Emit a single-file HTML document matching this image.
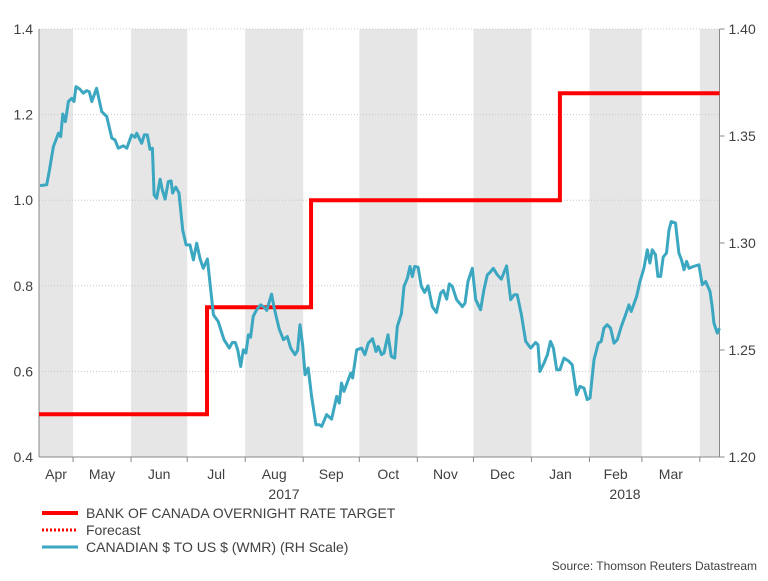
<!DOCTYPE html>
<html><head><meta charset="utf-8"><style>
body{margin:0;background:#fff;width:768px;height:576px;overflow:hidden;font-family:"Liberation Sans",sans-serif}
svg text{font-family:"Liberation Sans",sans-serif;fill:#404040}
</style></head><body>
<svg id="chart" width="768" height="576" xmlns="http://www.w3.org/2000/svg"></svg>
<script>
const monthStarts=[30,61,91,122,153,183,214,244,275,306,334,365];
const monthLabels=["Apr","May","Jun","Jul","Aug","Sep","Oct","Nov","Dec","Jan","Feb","Mar"];
const leftTicks=[0.4,0.6,0.8,1.0,1.2,1.4];
const rightTicks=[1.20,1.25,1.30,1.35,1.40];
const rateDays=[11.8,101.6,157.2,290.2,375.5];
const rateValues=[0.5,0.75,1.0,1.25];
const cadDays=[12.4,15.9,17.4,19.5,22.2,23.4,24.5,25.9,27.5,29.3,30.5,31.6,33.7,35.5,37.3,38.7,40.0,42.6,45.3,48.0,50.7,52.4,54.2,56.9,58.7,61.3,63.1,64.0,66.7,68.1,69.7,71.1,72.4,73.3,74.7,76.5,77.7,79.2,80.9,82.4,83.2,84.9,86.6,88.6,90.4,92.5,94.3,96.1,97.9,99.6,101.8,105.0,107.6,110.7,113.5,115.1,116.7,118.0,119.6,121.0,122.4,123.7,124.9,126.3,128.1,130.3,132.6,133.5,136.1,137.4,140.2,142.4,144.5,146.3,148.6,150.0,151.3,152.7,154.0,155.7,157.5,159.8,161.6,162.9,165.5,168.2,170.9,172.3,173.5,174.8,177.1,178.4,179.4,181.6,184.2,186.0,187.8,190.1,191.9,193.1,194.9,196.2,198.3,200.1,201.9,203.3,205.5,206.9,208.7,210.1,211.3,212.6,214.4,216.1,217.9,219.7,222.0,224.2,226.5,227.9,229.7,231.1,232.7,235.0,238.1,239.5,241.1,243.4,245.2,247.8,249.6,251.4,252.8,254.6,256.8,258.9,261.7,263.9,265.7,267.4,269.6,271.9,274.6,277.2,278.5,279.5,281.7,283.5,285.2,286.7,288.5,290.2,292.4,295.0,296.8,299.1,300.9,303.1,304.8,306.3,308.4,310.7,312.3,313.7,315.5,317.3,319.1,320.9,323.0,325.3,327.1,328.3,331.2,333.0,335.1,336.9,338.3,339.6,341.3,342.6,344.0,345.4,347.2,348.5,349.7,352.0,353.8,355.2,356.5,357.9,359.2,361.5,364.5,366.3,368.1,370.4,371.6,372.5,374.3,375.5];
const cadValues=[1.3268,1.3272,1.3342,1.3451,1.3513,1.3497,1.3603,1.3567,1.3661,1.3676,1.3661,1.3731,1.3718,1.3700,1.3712,1.3707,1.3661,1.3723,1.3614,1.3591,1.3490,1.3482,1.3443,1.3454,1.3443,1.3505,1.3494,1.3513,1.3466,1.3505,1.3505,1.3438,1.3443,1.3225,1.3209,1.3298,1.3248,1.3205,1.3287,1.3290,1.3233,1.3261,1.3233,1.3061,1.2991,1.2991,1.2921,1.2999,1.2925,1.2882,1.2925,1.2665,1.2633,1.2548,1.2509,1.2535,1.2535,1.2501,1.2423,1.2501,1.2486,1.2571,1.2560,1.2657,1.2688,1.2711,1.2696,1.2685,1.2761,1.2700,1.2598,1.2548,1.2563,1.2509,1.2478,1.2498,1.2618,1.2525,1.2384,1.2416,1.2283,1.2151,1.2151,1.2143,1.2198,1.2177,1.2283,1.2252,1.2346,1.2307,1.2361,1.2392,1.2369,1.2501,1.2509,1.2478,1.2532,1.2553,1.2493,1.2517,1.2478,1.2486,1.2571,1.2470,1.2462,1.2610,1.2669,1.2797,1.2836,1.2890,1.2843,1.2890,1.2887,1.2797,1.2769,1.2800,1.2703,1.2675,1.2766,1.2778,1.2738,1.2809,1.2797,1.2735,1.2703,1.2719,1.2820,1.2882,1.2735,1.2688,1.2781,1.2851,1.2862,1.2882,1.2851,1.2831,1.2893,1.2735,1.2758,1.2758,1.2665,1.2540,1.2509,1.2535,1.2525,1.2400,1.2439,1.2478,1.2540,1.2509,1.2408,1.2408,1.2462,1.2447,1.2431,1.2291,1.2330,1.2322,1.2268,1.2275,1.2454,1.2532,1.2540,1.2602,1.2618,1.2602,1.2532,1.2548,1.2610,1.2665,1.2711,1.2680,1.2750,1.2820,1.2882,1.2968,1.2906,1.2968,1.2945,1.2844,1.2844,1.2934,1.2953,1.3061,1.3100,1.3093,1.2953,1.2921,1.2875,1.2914,1.2882,1.2890,1.2898,1.2805,1.2820,1.2774,1.2703,1.2626,1.2579,1.2602];

const NS="http://www.w3.org/2000/svg";
const svg=document.getElementById('chart');
const X0=39,X1=719.5,Y0=29,Y1=457,D0=11.8,D1=375.5;
function xs(d){return X0+(d-D0)/(D1-D0)*(X1-X0);}
function yl(v){return Y1-(v-0.4)/1.0*(Y1-Y0);}
function yr(v){return Y1-(v-1.2)/0.2*(Y1-Y0);}
function mk(tag,attrs,parent){const e=document.createElementNS(NS,tag);for(const k in attrs)e.setAttribute(k,attrs[k]);(parent||svg).appendChild(e);return e;}

// bands
const bounds=[D0].concat(monthStarts).concat([D1]);
for(let i=0;i<bounds.length-1;i++){
  if(i%2===0){
    const r=mk('rect',{x:xs(bounds[i]),y:Y0,width:xs(Math.min(bounds[i+1],D1))-xs(bounds[i]),height:Y1-Y0,fill:'#e6e6e6'});
    
    
  }
}
// gridlines
leftTicks.forEach(v=>{
  const g=mk('line',{x1:X0,x2:X1,y1:yl(v),y2:yl(v),stroke:'#c8c8c8','stroke-dasharray':'1,2','stroke-width':1});
  
  
  const t=mk('text',{x:X0-6,y:yl(v)+5,'text-anchor':'end','font-size':14});
  t.textContent=v.toFixed(1);
  
  
});
rightTicks.forEach(v=>{
  const tk=mk('line',{x1:X1,x2:X1+5,y1:yr(v),y2:yr(v),stroke:'#888'});
  
  
  const t=mk('text',{x:X1+9,y:yr(v)+5,'font-size':14});
  t.textContent=v.toFixed(2);
  
  
});
// axes
const la=mk('line',{x1:X0,x2:X0,y1:Y0,y2:Y1,stroke:'#888'});


const ra=mk('line',{x1:X1,x2:X1,y1:Y0,y2:Y1,stroke:'#888'});


const ba=mk('line',{x1:X0,x2:X1,y1:Y1,y2:Y1,stroke:'#888'});


monthStarts.forEach(d=>{
  const tk=mk('line',{x1:xs(d),x2:xs(d),y1:Y1,y2:Y1+5,stroke:'#888'});
  
  
});
monthLabels.forEach((m,i)=>{
  const t=mk('text',{x:(xs(bounds[i])+xs(bounds[i+1]))/2,y:479,'text-anchor':'middle','font-size':14});
  t.textContent=m;
  
  
});
[['2017',284],['2018',625]].forEach(a=>{
  const t=mk('text',{x:a[1],y:499,'text-anchor':'middle','font-size':14});
  t.textContent=a[0];
  
  
});
// rate step line
let pts=[];
rateValues.forEach((v,i)=>{pts.push(xs(rateDays[i])+','+yl(v));pts.push(xs(rateDays[i+1])+','+yl(v));});
const rl=mk('polyline',{points:pts.join(' '),fill:'none',stroke:'#ff0000','stroke-width':4,'stroke-linejoin':'miter'});


// cad line
const cp=cadDays.map((d,i)=>xs(d).toFixed(1)+','+yr(cadValues[i]).toFixed(1)).join(' ');
const cl=mk('polyline',{points:cp,fill:'none',stroke:'#3ba7c1','stroke-width':3,'stroke-linejoin':'round'});


// legend
const leg=[['BANK OF CANADA OVERNIGHT RATE TARGET','#ff0000',4,null,513,'legend-rate'],['Forecast','#ff0000',3,'2,2',530,'legend-forecast'],['CANADIAN $ TO US $ (WMR) (RH Scale)','#3ba7c1',3,null,547,'legend-cad']];
leg.forEach(l=>{
  const a={x1:42,x2:78,y1:l[4],y2:l[4],stroke:l[1],'stroke-width':l[2]};
  if(l[3])a['stroke-dasharray']=l[3];
  const ln=mk('line',a);
  
  
  const t=mk('text',{x:86,y:l[4]+5,'font-size':14,fill:'#222'});
  t.textContent=l[0];
  
  
});
const src=mk('text',{x:757,y:570,'text-anchor':'end','font-size':12});
src.textContent='Source: Thomson Reuters Datastream';


</script>
</body></html>
